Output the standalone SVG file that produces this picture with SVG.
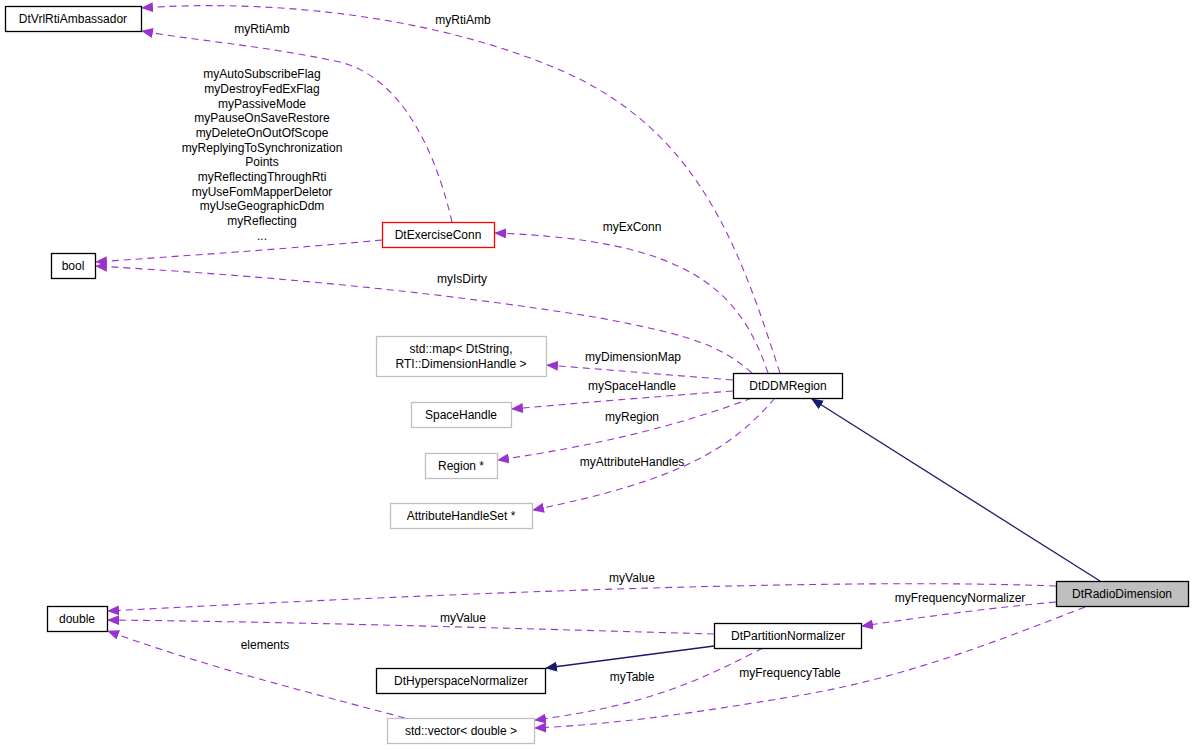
<svg xmlns="http://www.w3.org/2000/svg" width="1195" height="750" viewBox="0 0 1195 750">
<style>
text{font-family:"Liberation Sans",Arial,sans-serif;font-size:12px;fill:#000}
.n{text-anchor:middle}
.box{fill:#fff;stroke:#000;stroke-width:1.3}
.gray{fill:#fff;stroke:#bfbfbf;stroke-width:1.3}
.e{fill:none;stroke:#9a32cd;stroke-dasharray:7,5;stroke-width:1.1}
.s{fill:none;stroke:#191970;stroke-width:1.3}
.l{text-anchor:middle}
</style>
<defs>
<marker id="pa" markerWidth="12" markerHeight="10" refX="11" refY="5" orient="auto" markerUnits="userSpaceOnUse"><path d="M0,0 L12,5 L0,10 z" fill="#9a32cd"/></marker>
<marker id="na" markerWidth="12" markerHeight="10" refX="11" refY="5" orient="auto" markerUnits="userSpaceOnUse"><path d="M0,0 L12,5 L0,10 z" fill="#191970"/></marker>
</defs>
<rect width="1195" height="750" fill="#fff"/>
<g id="connectors">
<path class="e" marker-end="url(#pa)" d="M780,373 C740,250 700,130 560,70 C420,10 250,0 142,8"/>
<text class="l" x="463" y="24">myRtiAmb</text>
<path class="e" marker-end="url(#pa)" d="M452,222 C440,170 410,80 340,62 C260,45 190,40 142,31"/>
<text class="l" x="262" y="33">myRtiAmb</text>
<path class="e" marker-end="url(#pa)" d="M382,240 C300,248 180,256 96,262"/>
<text class="l" x="262" y="78">myAutoSubscribeFlag</text>
<text class="l" x="262" y="93">myDestroyFedExFlag</text>
<text class="l" x="262" y="108">myPassiveMode</text>
<text class="l" x="262" y="122">myPauseOnSaveRestore</text>
<text class="l" x="262" y="137">myDeleteOnOutOfScope</text>
<text class="l" x="262" y="152">myReplyingToSynchronization</text>
<text class="l" x="262" y="166">Points</text>
<text class="l" x="262" y="181">myReflectingThroughRti</text>
<text class="l" x="262" y="196">myUseFomMapperDeletor</text>
<text class="l" x="262" y="210">myUseGeographicDdm</text>
<text class="l" x="262" y="225">myReflecting</text>
<text class="l" x="262" y="240">...</text>
<path class="e" marker-end="url(#pa)" d="M768,373 C740,290 690,240 495,233"/>
<text class="l" x="632" y="231">myExConn</text>
<path class="e" marker-end="url(#pa)" d="M752,373 C720,345 690,335 600,318 C430,290 250,275 96,266"/>
<text class="l" x="462" y="283">myIsDirty</text>
<path class="e" marker-end="url(#pa)" d="M733,380 C670,375 610,370 547,365"/>
<text class="l" x="633" y="361">myDimensionMap</text>
<path class="e" marker-end="url(#pa)" d="M733,391 C650,397 580,403 512,409"/>
<text class="l" x="632" y="390">mySpaceHandle</text>
<path class="e" marker-end="url(#pa)" d="M752,398 C680,425 600,445 498,460"/>
<text class="l" x="632" y="421">myRegion</text>
<path class="e" marker-end="url(#pa)" d="M775,398 C730,450 680,480 533,510"/>
<text class="l" x="632" y="466">myAttributeHandles</text>
<path class="s" marker-end="url(#na)" d="M1100,581 L812,399"/>
<path class="e" marker-end="url(#pa)" d="M1056,586 C900,580 600,585 108,611"/>
<text class="l" x="632" y="582">myValue</text>
<path class="e" marker-end="url(#pa)" d="M1056,602 C990,608 930,616 862,626"/>
<text class="l" x="960" y="602">myFrequencyNormalizer</text>
<path class="e" marker-end="url(#pa)" d="M1085,607 C1000,640 900,680 790,697 C700,712 620,724 535,728"/>
<text class="l" x="790" y="677">myFrequencyTable</text>
<path class="e" marker-end="url(#pa)" d="M714,634 C500,628 300,622 108,620"/>
<text class="l" x="463" y="622">myValue</text>
<path class="s" marker-end="url(#na)" d="M714,646 L546,668"/>
<path class="e" marker-end="url(#pa)" d="M763,648 C700,680 650,705 535,720"/>
<text class="l" x="632" y="681">myTable</text>
<path class="e" marker-end="url(#pa)" d="M405,718 C300,690 200,665 108,631"/>
<text class="l" x="265" y="649">elements</text>
</g>
<g id="DtVrlRtiAmbassador"><rect class="box" x="5.5" y="6.5" width="136" height="25"/><text class="n" x="73" y="23">DtVrlRtiAmbassador</text></g>
<g id="bool"><rect class="box" x="51.5" y="253.5" width="44" height="25"/><text class="n" x="73" y="270">bool</text></g>
<g id="DtExerciseConn"><rect class="box" x="382.5" y="222.5" width="112" height="25" style="stroke:#ff0000"/><text class="n" x="438" y="239">DtExerciseConn</text></g>
<g id="stdmap"><rect class="gray" x="376.5" y="336.5" width="170" height="40"/><text class="n" x="461" y="353">std::map&lt; DtString,</text><text class="n" x="461" y="368"> RTI::DimensionHandle &gt;</text></g>
<g id="SpaceHandle"><rect class="gray" x="411.5" y="402.5" width="100" height="25"/><text class="n" x="461" y="419">SpaceHandle</text></g>
<g id="Region"><rect class="gray" x="425.5" y="453.5" width="72" height="25"/><text class="n" x="461" y="470">Region *</text></g>
<g id="AttributeHandleSet"><rect class="gray" x="390.5" y="503.5" width="142" height="25"/><text class="n" x="461" y="520">AttributeHandleSet *</text></g>
<g id="DtDDMRegion"><rect class="box" x="733.5" y="373.5" width="109" height="25"/><text class="n" x="788" y="390">DtDDMRegion</text></g>
<g id="double"><rect class="box" x="47.5" y="606.5" width="60" height="25"/><text class="n" x="77" y="623">double</text></g>
<g id="DtPartitionNormalizer"><rect class="box" x="714.5" y="623.5" width="147" height="25"/><text class="n" x="788" y="640">DtPartitionNormalizer</text></g>
<g id="DtHyperspaceNormalizer"><rect class="box" x="376.5" y="668.5" width="169" height="25"/><text class="n" x="461" y="685">DtHyperspaceNormalizer</text></g>
<g id="stdvector"><rect class="gray" x="387.5" y="718.5" width="147" height="25"/><text class="n" x="461" y="735">std::vector&lt; double &gt;</text></g>
<g id="DtRadioDimension"><rect class="box" x="1056.5" y="581.5" width="132" height="25" style="fill:#bfbfbf"/><text class="n" x="1122" y="598">DtRadioDimension</text></g>
</svg>
